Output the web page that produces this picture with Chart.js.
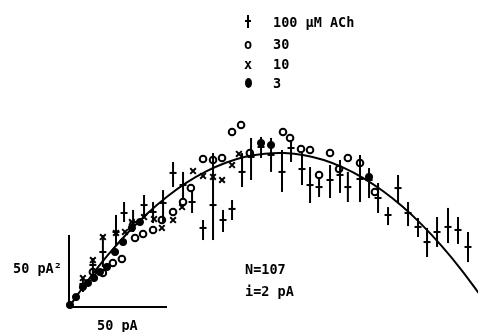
<!DOCTYPE html>
<html>
<head>
<meta charset="utf-8">
<script src="https://cdn.jsdelivr.net/npm/chart.js@4"></script>
<style>
    body { margin: 0; background: #fff; }
    #wrap { position: relative; width: 478px; height: 332px; }
    .lbl {
        position: absolute;
        font-family: "DejaVu Sans Mono", monospace;
        font-weight: bold;
        font-size: 13.5px;
        line-height: 14px;
        color: #000;
        white-space: nowrap;
    }
    .dot { position: absolute; width: 7px; height: 10px; border-radius: 50%; background: #000; }
    .ebar { position: absolute; width: 2px; height: 13px; background: #000; }
    .etick { position: absolute; width: 6px; height: 2px; background: #000; }
</style>
</head>
<body>
<div id="wrap">
    <canvas id="noiseChart" width="478" height="332"></canvas>

    <!-- legend -->
    <div class="ebar" style="left:247px; top:15px;"></div>
    <div class="etick" style="left:245px; top:20px;"></div>
    <div class="lbl" style="left:273px; top:15px;">100 μM ACh</div>
    <div class="lbl" style="left:244px; top:37px;">o</div>
    <div class="lbl" style="left:273px; top:37px;">30</div>
    <div class="lbl" style="left:244px; top:57px;">x</div>
    <div class="lbl" style="left:273px; top:57px;">10</div>
    <div class="dot" style="left:245px; top:78px;"></div>
    <div class="lbl" style="left:273px; top:76px;">3</div>

    <!-- scale bar labels and fit parameters -->
    <div class="lbl" style="left:13px; top:261px;">50 pA²</div>
    <div class="lbl" style="left:97px; top:318px;">50 pA</div>
    <div class="lbl" style="left:245px; top:262px;">N=107</div>
    <div class="lbl" style="left:245px; top:284px;">i=2 pA</div>
</div>
<script>
// 100 uM ACh: mean current (pA), variance (pA^2) and error bar limits
const achCurrent = [7.1, 12.2, 17.3, 24.0, 28.1, 32.7, 38.3, 42.9, 48.0, 53.1, 58.2, 62.8, 68.4, 73.5, 78.6, 83.2, 88.3, 92.9, 98.0, 103.1,
    108.7, 113.3, 118.9, 123.0, 127.6, 133.2, 138.3, 142.3, 148.5, 153.1, 157.7, 162.8, 167.9, 173.0, 178.1, 182.7, 187.8, 193.4, 198.5, 203.6];
const achVar = [16.0, 29.2, 38.2, 52.1, 65.3, 59.0, 70.8, 66.0, 72.2, 93.1, 84.7, 72.9, 54.9, 70.8, 60.4, 68.1, 93.8, 104.2, 111.1, 105.6,
    93.8, 110.4, 95.8, 84.7, 83.3, 88.2, 91.7, 83.3, 88.9, 88.2, 75.7, 63.9, 82.6, 65.3, 55.6, 45.1, 52.1, 55.6, 53.5, 41.7];
const achLow = [10.4, 22.9, 27.8, 43.1, 59.0, 52.1, 61.8, 58.3, 59.0, 83.3, 75.7, 65.3, 46.5, 46.5, 52.1, 60.4, 83.3, 88.2, 103.5, 93.8,
    79.9, 100.7, 84.7, 72.2, 76.4, 75.7, 79.2, 72.9, 72.9, 75.7, 65.3, 56.9, 72.2, 56.2, 48.6, 34.7, 41.7, 44.4, 43.8, 31.2];
const achHigh = [20.8, 34.0, 50.0, 63.9, 72.9, 67.4, 77.8, 72.9, 81.2, 100.7, 93.8, 81.2, 60.4, 106.9, 67.4, 74.3, 106.9, 117.4, 118.1, 117.4,
    109.0, 116.0, 106.9, 97.2, 90.3, 98.6, 102.1, 93.8, 105.6, 96.5, 86.1, 69.4, 91.7, 72.9, 61.8, 54.9, 62.5, 68.8, 62.5, 52.1];

// 30 uM (open circles)
const c30Current = [12.2, 17.3, 22.4, 27.0, 33.7, 37.8, 42.9, 47.4, 53.1, 58.2, 62.2, 68.4, 73.5, 78.1, 83.2, 87.8, 92.3,
    109.2, 112.8, 118.4, 123.0, 127.6, 133.2, 137.8, 142.3, 148.5, 156.1];
const c30Var = [24.3, 23.6, 30.6, 33.3, 47.9, 50.7, 53.5, 60.4, 66.0, 72.9, 82.6, 102.8, 102.1, 103.5, 121.5, 126.4, 106.9,
    121.5, 117.4, 109.7, 109.0, 91.7, 106.9, 95.8, 103.5, 100.0, 79.9];

// 10 uM (crosses)
const c10Current = [7.1, 12.2, 17.3, 24.0, 28.6, 32.1, 38.3, 43.4, 47.4, 53.1, 57.7, 63.3, 68.4, 73.5, 78.1, 83.2, 86.7];
const c10Var = [20.1, 32.6, 48.6, 51.4, 52.1, 59.0, 62.5, 61.1, 54.9, 60.4, 69.4, 94.4, 91.0, 90.3, 88.2, 98.6, 106.3];

// 3 uM (filled dots)
const c3Current = [0.5, 3.6, 7.1, 9.7, 12.8, 15.8, 19.4, 23.5, 27.6, 32.1, 36.2, 98.0, 103.1, 153.1];
const c3Var = [1.4, 6.9, 13.9, 16.7, 20.1, 24.3, 27.8, 38.2, 45.1, 54.9, 59.0, 113.9, 112.5, 90.3];

// fitted parabola (N=107, i=2 pA)
const fitCurrent = [0, 10, 20, 30, 40, 50, 60, 70, 80, 90, 100, 110, 120, 130, 140, 150, 160, 170, 180, 190, 200, 210];
const fitVar = [0, 19.1, 36.3, 51.6, 65.0, 76.6, 86.4, 94.2, 100.2, 104.3, 106.5, 106.9, 105.4, 102.1, 96.8, 89.7, 80.7, 69.9, 57.2, 42.6, 26.2, 7.9];

// scale bars: 50 pA and 50 pA^2
const barCurrent = [0, 50];
const barVar = [0, 50];

function pts(xs, ys) {
    return xs.map(function (x, i) { return { x: x, y: ys[i] }; });
}

// Draw the vertical error bars of the ACh series
const errorBars = {
    id: 'errorBars',
    afterDatasetsDraw: function (chart) {
        var ctx = chart.ctx;
        var xs = chart.scales.x, ys = chart.scales.y;
        ctx.save();
        ctx.strokeStyle = '#000';
        ctx.lineWidth = 2;
        achCurrent.forEach(function (c, i) {
            var px = xs.getPixelForValue(c);
            ctx.beginPath();
            ctx.moveTo(px, ys.getPixelForValue(achLow[i]));
            ctx.lineTo(px, ys.getPixelForValue(achHigh[i]));
            ctx.stroke();
        });
        ctx.restore();
    }
};

const ctx = document.getElementById('noiseChart').getContext('2d');
new Chart(ctx, {
    type: 'scatter',
    data: {
        datasets: [
            {
                label: 'fit', type: 'line', data: pts(fitCurrent, fitVar),
                borderColor: '#000', borderWidth: 2, pointRadius: 0, tension: 0.4, fill: false
            },
            {
                label: 'x bar', type: 'line', data: pts(barCurrent, [0, 0]),
                borderColor: '#000', borderWidth: 2, pointRadius: 0
            },
            {
                label: 'y bar', type: 'line', data: pts([0, 0], barVar),
                borderColor: '#000', borderWidth: 2, pointRadius: 0
            },
            {
                label: '100 uM ACh', data: pts(achCurrent, achVar),
                pointStyle: 'line', pointRadius: 3.5, borderColor: '#000', borderWidth: 2
            },
            {
                label: '30', data: pts(c30Current, c30Var),
                pointStyle: 'circle', pointRadius: 3.3, borderColor: '#000', backgroundColor: 'rgba(0,0,0,0)', borderWidth: 2
            },
            {
                label: '10', data: pts(c10Current, c10Var),
                pointStyle: 'crossRot', pointRadius: 4, borderColor: '#000', borderWidth: 2
            },
            {
                label: '3', data: pts(c3Current, c3Var),
                pointStyle: 'circle', pointRadius: 3.6, borderColor: '#000', backgroundColor: '#000', borderWidth: 1
            }
        ]
    },
    options: {
        responsive: false,
        animation: false,
        layout: { padding: 0, autoPadding: false },
        plugins: { legend: { display: false }, tooltip: { enabled: false } },
        scales: {
            x: { type: 'linear', display: false, min: -35.2, max: 208.7 },
            y: { type: 'linear', display: false, min: -17.36, max: 213.2 }
        }
    },
    plugins: [errorBars]
});
</script>
</body>
</html>
